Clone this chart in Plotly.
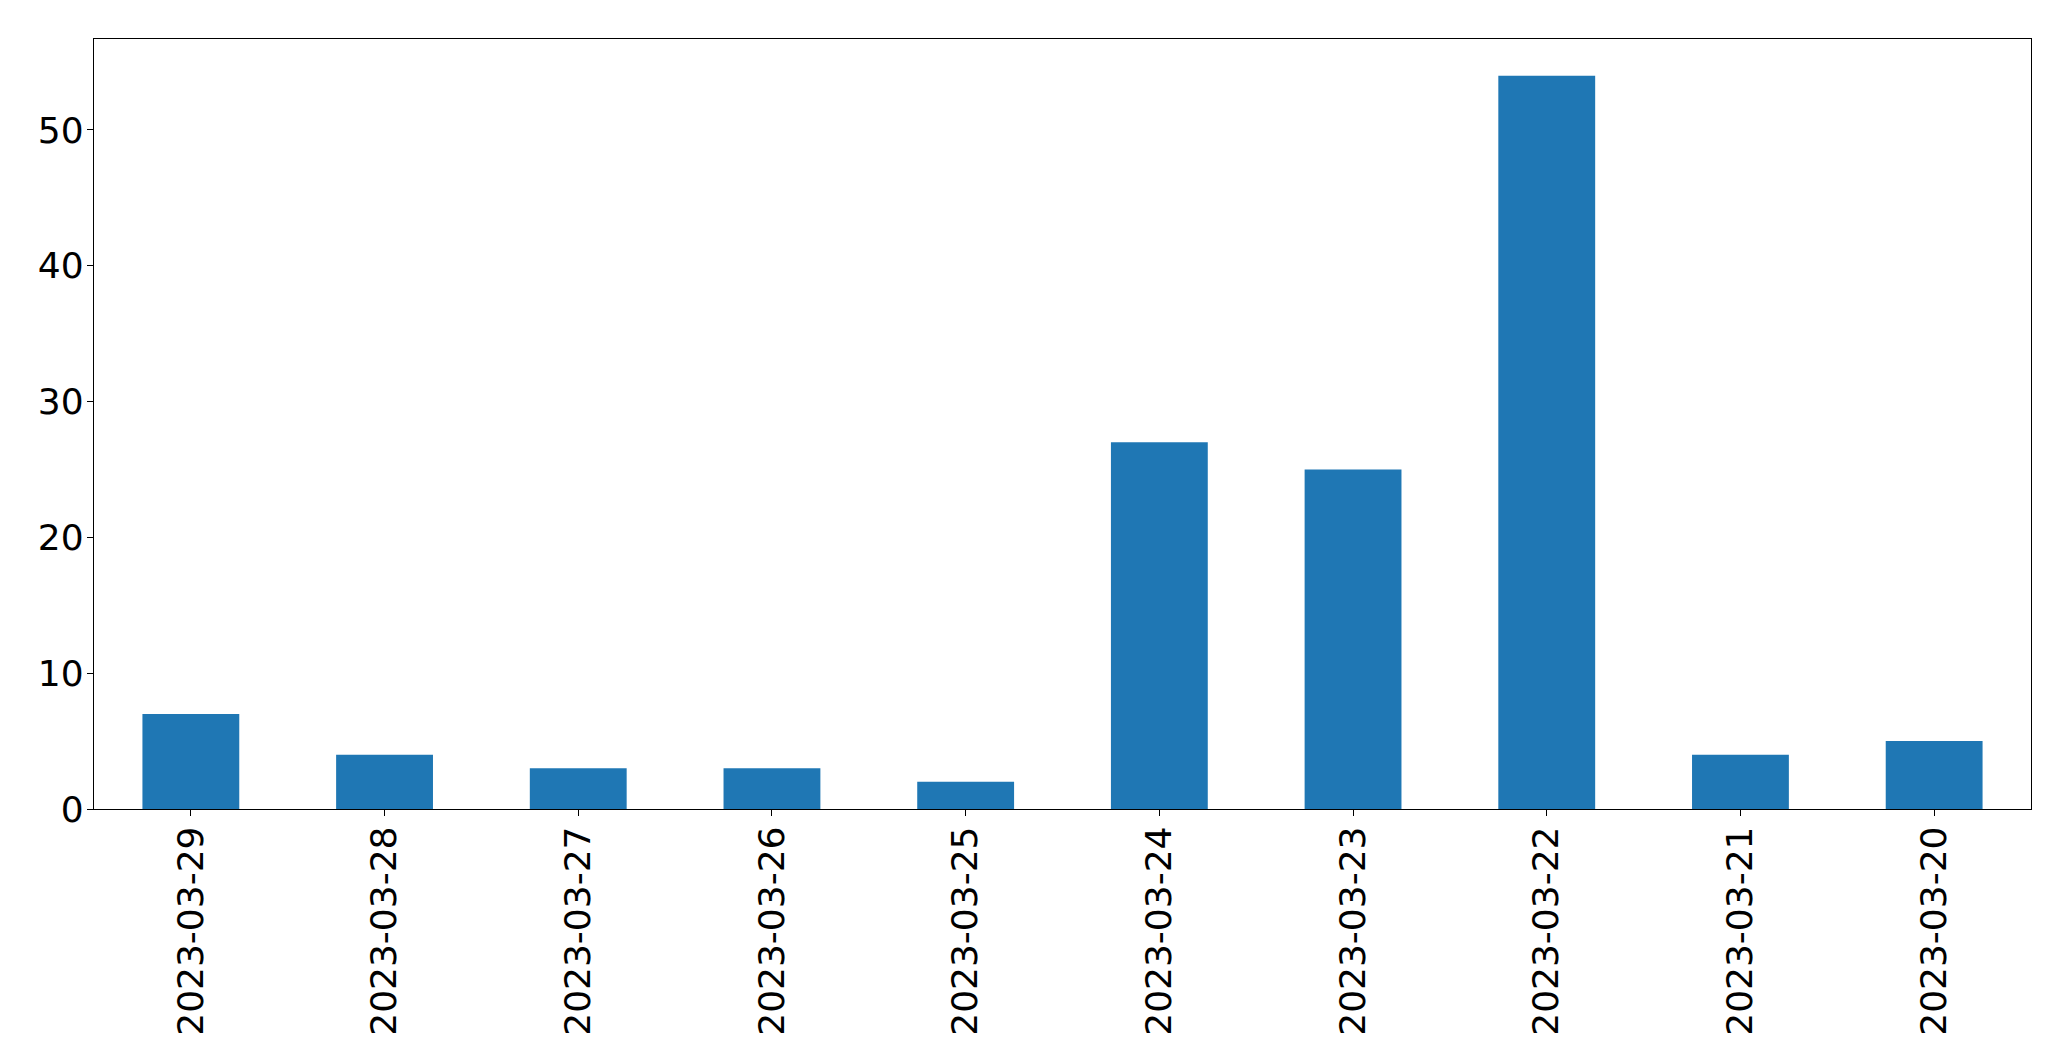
import plotly.graph_objects as go

dates = ["2023-03-29", "2023-03-28", "2023-03-27", "2023-03-26", "2023-03-25",
         "2023-03-24", "2023-03-23", "2023-03-22", "2023-03-21", "2023-03-20"]
counts = [7, 4, 3, 3, 2, 27, 25, 54, 4, 5]
y_ticks = [0, 10, 20, 30, 40, 50]

fig = go.Figure(go.Bar(x=dates, y=counts, marker_color="#1f77b4",
                       marker_line_width=0, width=0.5))

fig.update_layout(
    width=2071, height=1061,
    margin=dict(l=86, r=48, t=31, b=260, autoexpand=False),
    paper_bgcolor="white", plot_bgcolor="white",
    font=dict(family="DejaVu Sans", size=36, color="black"),
    showlegend=False,
    bargap=0.5,
)
fig.update_xaxes(type="category", range=[-0.5, 9.5], tickangle=-90,
                 showline=True, linecolor="black", linewidth=1.3, mirror=True,
                 ticks="outside", ticklen=6, tickcolor="black", tickwidth=1.3,
                 showgrid=False, zeroline=False, ticklabelstandoff=-4,
                 automargin=False)
fig.update_yaxes(range=[0, 56.7], tickvals=y_ticks,
                 showline=True, linecolor="black", linewidth=1.3, mirror=True,
                 ticks="outside", ticklen=6, tickcolor="black", tickwidth=1.3,
                 showgrid=False, zeroline=False, ticklabelstandoff=-4,
                 automargin=False)

fig.write_html("out.html")
